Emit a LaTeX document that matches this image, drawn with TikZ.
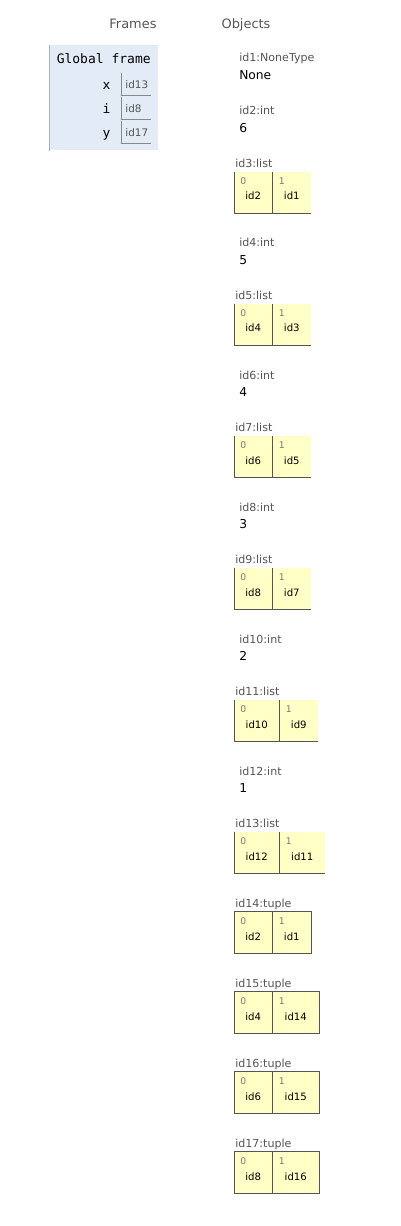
\documentclass[tikz,border=0pt]{standalone}
\usepackage{fontspec}
\setmainfont{DejaVu Sans}
\setmonofont{DejaVu Sans Mono}
\definecolor{framebg}{HTML}{E2EBF6}
\definecolor{frameline}{HTML}{A6B3B6}
\definecolor{heapbg}{HTML}{FFFFC6}
\definecolor{heapline}{HTML}{555555}
\definecolor{lblgray}{HTML}{555555}
\definecolor{idxgray}{HTML}{777777}
\definecolor{refline}{HTML}{888888}
\begin{document}
\begin{tikzpicture}[x=0.75pt,y=-0.75pt,
		heading/.style={text=lblgray,font=\fontsize{9.7}{11}\selectfont,inner sep=0,anchor=base},
		framebox/.style={fill=framebg,inner sep=0,anchor=north west,minimum width=81.75pt,minimum height=78.75pt},
		frametitle/.style={font=\ttfamily\fontsize{9.75}{11}\selectfont,inner sep=0,anchor=base west},
		varname/.style={font=\ttfamily\fontsize{9.75}{11}\selectfont,inner sep=0,anchor=base east},
		refcell/.style={inner sep=0,anchor=north west,minimum width=21.2pt,minimum height=16.1pt},
		reftxt/.style={text=lblgray,font=\fontsize{7.8}{9}\selectfont,inner sep=0,anchor=base west},
		typelbl/.style={text=lblgray,font=\fontsize{8.3}{10}\selectfont,inner sep=0,anchor=base west},
		primval/.style={font=\fontsize{9.2}{11}\selectfont,inner sep=0,anchor=base west},
		cell/.style={fill=heapbg,inner sep=0,anchor=north west,minimum height=30.75pt},
		idx/.style={text=idxgray,font=\fontsize{6.9}{8}\selectfont,inner sep=0,anchor=base west},
		elem/.style={font=\fontsize{7.6}{9}\selectfont,inner sep=0,anchor=base},
		heapedge/.style={draw=heapline,line width=0.75pt},
		refedge/.style={draw=refline,line width=0.75pt},
	]
	\useasboundingbox (0,0) rectangle (400,1226);
	\node[heading] (framesT) at (133,28.3) {Frames};
	\node[heading] (objectsT) at (246,28.3) {Objects};
	\node[framebox] (gframe) at (49,45) {};
	\draw[frameline,line width=0.75pt] (gframe.north west) -- (gframe.south west);
	\node[frametitle] (gtitle) at (56.5,64) {Global frame};
	\foreach \v/\r/\n in {x/id13/1,i/id8/2,y/id17/3}{
		\pgfmathsetmacro\ytop{73.5+(\n-1)*24}
		\node[refcell] (var\v) at (121.7,\ytop) {};
		\draw[refedge] (var\v.north west) |- (var\v.south east);
		\node[varname] (name\v) at ([shift={(-11,16.5)}]var\v.north west) {\v};
		\node[reftxt] (ref\v) at ([shift={(3.5,15.2)}]var\v.north west) {\r};
	}
	\node[typelbl] (lbl1) at (239,61.5) {id1:NoneType};
	\node[primval] (val1) at (239,79.3) {None};
	\foreach \k/\v in {2/6,4/5,6/4,8/3,10/2,12/1}{
		\pgfmathsetmacro\ylbl{115+(\k-2)*66}
		\pgfmathsetmacro\yval{132.3+(\k-2)*66}
		\node[typelbl] (lbl\k) at (239,\ylbl) {id\k:int};
		\node[primval] (val\k) at (239,\yval) {\v};
	}
	\foreach \k/\a/\b/\wa/\wb in {3/id2/id1/38/38,5/id4/id3/38/38,7/id6/id5/38/38,9/id8/id7/38/38,11/id10/id9/45/38,13/id12/id11/45/45}{
		\pgfmathsetmacro\ytop{171.7+(\k-3)*66}
		\pgfmathsetmacro\wA{\wa*0.75}
		\pgfmathsetmacro\wB{\wb*0.75}
		\node[typelbl] (lbl\k) at (235,\ytop-4) {id\k:list};
		\node[cell,minimum width=\wA pt] (c\k-0) at (234,\ytop) {};
		\node[cell,minimum width=\wB pt] (c\k-1) at (c\k-0.north east) {};
		\draw[heapedge] (c\k-0.north west) |- (c\k-1.south east);
		\draw[heapedge] (c\k-0.north east) -- (c\k-0.south east);
		\node[idx] (i\k-0) at ([shift={(6,12.6)}]c\k-0.north west) {0};
		\node[idx] (i\k-1) at ([shift={(6,12.6)}]c\k-1.north west) {1};
		\node[elem] (e\k-0) at ([shift={(0,28.3)}]c\k-0.north) {\a};
		\node[elem] (e\k-1) at ([shift={(0,28.3)}]c\k-1.north) {\b};
	}
	\foreach \k/\a/\b/\wb in {14/id2/id1/38,15/id4/id14/46,16/id6/id15/46,17/id8/id16/46}{
		\pgfmathsetmacro\ytop{911.7+(\k-14)*80}
		\pgfmathsetmacro\wB{\wb*0.75}
		\node[typelbl] (lbl\k) at (235,\ytop-4) {id\k:tuple};
		\node[cell,minimum width=28.5pt] (c\k-0) at (234,\ytop) {};
		\node[cell,minimum width=\wB pt] (c\k-1) at (c\k-0.north east) {};
		\draw[heapedge] (c\k-0.north west) rectangle (c\k-1.south east);
		\draw[heapedge] (c\k-0.north east) -- (c\k-0.south east);
		\node[idx] (i\k-0) at ([shift={(6,12.6)}]c\k-0.north west) {0};
		\node[idx] (i\k-1) at ([shift={(6,12.6)}]c\k-1.north west) {1};
		\node[elem] (e\k-0) at ([shift={(0,28.3)}]c\k-0.north) {\a};
		\node[elem] (e\k-1) at ([shift={(0,28.3)}]c\k-1.north) {\b};
	}
\end{tikzpicture}
\end{document}
